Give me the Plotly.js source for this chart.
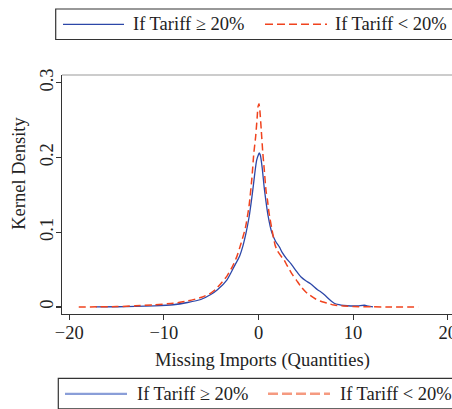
<!DOCTYPE html>
<html>
<head>
<meta charset="utf-8">
<script src="https://cdn.plot.ly/plotly-3.0.1.min.js"></script>
<style>
html,body{margin:0;padding:0;overflow:hidden;background:#fff;}
#chart{width:470px;height:409px;}
</style>
</head>
<body>
<div id="chart"></div>
<script>
// Series: Tariff >= 20%
const highX = [-17.2,-15,-13,-11,-9,-7.5,-6.1,-5,-4.34,-3.35,-2.58,-2,-1.66,-1.3,-1,-0.74,-0.55,-0.4,-0.2,0,0.08,0.2,0.4,0.6,0.77,1,1.4,1.8,2.22,2.5,3,3.42,4,4.5,5,5.5,6.24,6.6,7,7.5,8,8.5,9,9.77,10.5,11.2,11.6,12.1];
const highY = [0,0.0003,0.0008,0.0015,0.003,0.006,0.010,0.017,0.023,0.036,0.054,0.068,0.081,0.100,0.120,0.143,0.162,0.178,0.196,0.204,0.206,0.203,0.185,0.160,0.143,0.123,0.100,0.088,0.080,0.073,0.064,0.058,0.048,0.040,0.035,0.031,0.023,0.020,0.016,0.010,0.005,0.003,0.002,0.0013,0.0015,0.0023,0.0012,0];
// Series: Tariff < 20%
const lowX = [-19,-17,-15,-13,-11,-9,-7.5,-6,-5,-4.5,-3.8,-3.3,-2.8,-2.3,-1.85,-1.4,-1,-0.7,-0.5,-0.3,-0.15,-0.05,0.05,0.15,0.3,0.45,0.6,0.8,0.95,1.1,1.4,1.75,2,2.5,2.7,3,3.5,4,4.5,5,5.4,6,6.5,7.3,8,9,10,12,14,16.9];
const lowY = [0,0.0002,0.0005,0.0015,0.003,0.005,0.008,0.013,0.019,0.024,0.034,0.042,0.053,0.067,0.085,0.105,0.135,0.172,0.205,0.228,0.252,0.268,0.272,0.262,0.235,0.207,0.185,0.155,0.143,0.127,0.105,0.083,0.075,0.066,0.063,0.056,0.045,0.036,0.027,0.020,0.016,0.011,0.008,0.005,0.0025,0.0013,0.0005,0.0002,0,0];
const seriesNames = ['If Tariff \u2265 20%', 'If Tariff < 20%'];
const xTitle = 'Missing Imports (Quantities)';
const yTitle = 'Kernel Density';
const xTicks = [-20,-10,0,10,20];
const yTicks = [0,0.1,0.2,0.3];
const yTickText = ['0','0.1','0.2','0.3'];

const W = 470, H = 409, ML = 62, MR = 15, MT = 75, MB = 95;
const PW = W - ML - MR, PH = H - MT - MB;
const px = v => (v - ML) / PW;
const py = v => (H - MB - v) / PH;

const FONT = 'Liberation Serif, Times New Roman, serif';
const BLUE = '#2c47a8', RED = '#f0431e';
const TXT = {family: FONT, size: 18.5, color: '#222'};

const traces = [
  {x: highX, y: highY, type: 'scatter', mode: 'lines', name: seriesNames[0],
   line: {color: BLUE, width: 1.3, shape: 'spline', smoothing: 0.6}},
  {x: lowX, y: lowY, type: 'scatter', mode: 'lines', name: seriesNames[1],
   line: {color: RED, width: 1.5, dash: '7px,4px', shape: 'spline', smoothing: 0.6}}
];

function legendBlock(topPx, leftPx, textY, items) {
  const shapes = [{type: 'rect', xref: 'paper', yref: 'paper',
    x0: px(leftPx), x1: px(W + 10), y0: py(topPx + 30.5), y1: py(topPx),
    line: {color: '#333', width: 1.2}, fillcolor: 'rgba(0,0,0,0)'}];
  const anns = [];
  items.forEach(it => {
    shapes.push({type: 'line', xref: 'paper', yref: 'paper',
      x0: px(it.l0), x1: px(it.l1), y0: py(textY), y1: py(textY),
      line: {color: it.color, width: it.width, dash: it.dash || 'solid'}});
    anns.push({xref: 'paper', yref: 'paper', x: px(it.t), y: py(textY),
      xanchor: 'left', yanchor: 'middle', showarrow: false, text: it.text, font: TXT});
  });
  return {shapes, anns};
}

const legTop = legendBlock(9, 55.7, 24.3, [
  {l0: 63, l1: 124, t: 131, text: seriesNames[0], color: BLUE, width: 1.3},
  {l0: 265, l1: 327, t: 333, text: seriesNames[1], color: RED, width: 1.5, dash: '8px,4px'}
]);
const legBot = legendBlock(378.3, 58.3, 393.8, [
  {l0: 65, l1: 127, t: 135, text: seriesNames[0], color: '#8a9ed8', width: 2.2},
  {l0: 268, l1: 330, t: 338, text: seriesNames[1], color: '#f59a80', width: 2.4, dash: '10px,4px'}
]);

const titleAnns = [
  {xref: 'paper', yref: 'paper', x: px(262.5), y: py(360), xanchor: 'center', yanchor: 'middle',
   showarrow: false, text: xTitle, font: TXT},
  {xref: 'paper', yref: 'paper', x: px(19.5), y: py(173.3), xanchor: 'center', yanchor: 'middle',
   showarrow: false, text: yTitle, textangle: -90, font: TXT}
];

const layout = {
  width: W, height: H,
  margin: {l: ML, r: MR, t: MT, b: MB, pad: 0},
  paper_bgcolor: '#fff', plot_bgcolor: '#fff',
  showlegend: false,
  font: TXT,
  xaxis: {range: [-20.77, 20.77], tickvals: xTicks, ticks: 'outside', ticklen: 5,
    tickcolor: '#333', tickwidth: 1.2, showline: true, linecolor: '#333', linewidth: 1.4,
    showgrid: false, zeroline: false, tickfont: TXT, ticklabelstandoff: -4, automargin: false},
  yaxis: {range: [-0.0094, 0.3103], tickvals: yTicks, ticktext: yTickText, ticks: 'outside',
    ticklen: 5, tickcolor: '#333', tickwidth: 1.2, showline: true, linecolor: '#333',
    linewidth: 1.4, showgrid: false, zeroline: false, tickangle: -90, ticklabelstandoff: -5,
    tickfont: TXT, automargin: false},
  shapes: [{type: 'line', xref: 'paper', yref: 'paper', x0: 0, x1: 1.05, y0: 1, y1: 1,
    line: {color: '#999', width: 1.2}}].concat(legTop.shapes, legBot.shapes),
  annotations: legTop.anns.concat(legBot.anns, titleAnns)
};

Plotly.newPlot('chart', traces, layout, {displayModeBar: false, staticPlot: true});
</script>
</body>
</html>
